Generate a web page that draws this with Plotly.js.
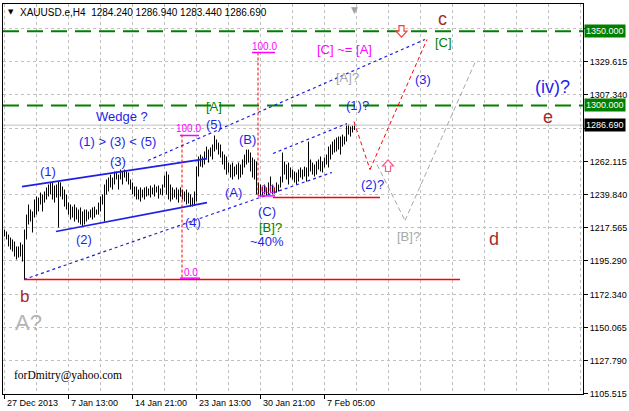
<!DOCTYPE html>
<html><head><meta charset="utf-8">
<script src="https://cdn.plot.ly/plotly-3.0.1.min.js"></script>
<style>html,body{margin:0;padding:0;background:#fff}#chart{width:629px;height:411px}</style>
</head><body><div id="chart"></div>
<script>
// ---------- data ----------
const symbol = 'XAUUSD.e,H4';
const lastOHLC = [1284.240, 1286.940, 1283.440, 1286.690];
const highs = [
1216.2,1214.9,1212.8,1210.8,1209.5,1208.1,1204.8,1204.8,1207.5,1206.1,
1216.2,1226.3,1233.1,1229.7,1228.4,1236.5,1238.5,1237.8,1241.2,1239.9,
1241.9,1244.6,1246.6,1248.0,1248.0,1245.9,1246.6,1248.6,1248.0,1245.2,
1243.2,1239.9,1234.4,1233.1,1231.7,1233.1,1231.1,1229.7,1231.1,1228.4,
1229.7,1229.7,1228.4,1229.7,1231.1,1231.7,1229.7,1234.4,1238.5,1239.9,
1246.6,1250.0,1251.3,1253.3,1251.3,1255.4,1255.4,1253.3,1256.7,1255.4,
1256.7,1255.4,1254.7,1250.0,1248.0,1245.2,1245.2,1243.2,1244.6,1243.2,
1244.6,1245.2,1243.9,1245.9,1244.6,1246.6,1245.2,1245.9,1243.9,1246.6,
1252.7,1255.4,1253.3,1246.6,1244.6,1243.2,1244.6,1243.2,1244.6,1243.2,
1241.9,1243.2,1241.2,1239.9,1237.8,1241.9,1258.7,1265.5,1266.8,1265.5,
1268.9,1272.2,1270.2,1271.6,1273.6,1279.7,1277.0,1274.9,1273.6,1268.9,
1266.8,1265.5,1261.4,1260.1,1261.4,1258.7,1260.1,1261.4,1260.1,1263.5,
1266.8,1270.2,1270.2,1268.2,1264.8,1263.5,1262.1,1248.0,1246.6,1245.2,
1246.6,1244.6,1248.0,1252.0,1246.6,1244.6,1248.0,1246.6,1252.0,1268.2,
1262.1,1260.1,1261.4,1258.1,1256.7,1255.4,1254.7,1256.7,1258.1,1256.7,
1258.7,1258.1,1275.6,1263.5,1261.4,1260.1,1262.1,1263.5,1265.5,1262.1,
1264.8,1266.8,1272.2,1273.6,1275.6,1277.0,1278.3,1279.0,1279.0,1280.3,
1279.0,1287.1,1287.1,1285.7,1286.4,1286.94];
const lows = [
1211.5,1209.5,1204.8,1202.7,1201.4,1198.0,1196.0,1197.3,1198.0,1194.6,
1182.5,1209.5,1219.6,1221.6,1214.2,1224.3,1226.3,1228.4,1233.1,1228.4,
1234.4,1236.5,1238.5,1239.9,1236.5,1234.4,1237.8,1217.6,1238.5,1236.5,
1231.7,1229.7,1226.3,1223.0,1224.3,1221.6,1223.0,1220.9,1219.6,1218.2,
1219.6,1221.6,1223.0,1224.3,1223.0,1224.3,1226.3,1226.3,1228.4,1233.1,
1221.6,1239.9,1241.9,1244.6,1243.2,1246.6,1250.0,1243.2,1250.0,1246.6,
1251.3,1248.6,1246.6,1243.2,1239.9,1238.5,1236.5,1236.5,1235.1,1237.8,
1236.5,1238.5,1239.2,1237.8,1239.9,1238.5,1241.2,1237.1,1239.9,1239.2,
1244.6,1239.9,1236.5,1235.1,1236.5,1237.8,1236.5,1234.4,1238.5,1236.5,
1235.1,1233.1,1233.8,1231.7,1231.7,1232.4,1235.1,1252.0,1258.7,1258.1,
1260.1,1263.5,1261.4,1265.5,1263.5,1268.9,1270.2,1266.8,1264.8,1260.1,
1256.7,1253.3,1254.7,1251.3,1250.0,1252.0,1253.3,1250.0,1251.3,1253.3,
1258.1,1260.1,1261.4,1255.4,1251.3,1250.0,1239.9,1239.9,1238.5,1239.2,
1239.9,1239.2,1239.9,1241.2,1239.9,1240.5,1241.2,1241.9,1244.6,1248.0,
1253.3,1250.0,1246.6,1251.3,1250.0,1248.0,1246.6,1248.6,1251.3,1250.0,
1252.0,1248.6,1252.0,1255.4,1253.3,1252.0,1253.3,1256.7,1255.4,1254.7,
1258.1,1260.1,1258.1,1263.5,1266.8,1268.2,1268.9,1270.2,1266.8,1272.2,
1273.6,1275.6,1280.3,1279.0,1281.7,1283.44];
const timeLabels = ['27 Dec 2013','7 Jan 13:00','14 Jan 21:00','23 Jan 13:00','30 Jan 21:00','7 Feb 05:00'];
const timeLabelBars = [0,32,64,96,128,160];
const priceTicks = [1105.515,1127.790,1150.065,1172.340,1195.290,1217.565,1239.840,1262.115,1284.390,1307.340,1329.615,1351.890];
const priceTickText = ['1105.515','1127.790','1150.065','1172.340','1195.290','1217.565','1239.840','1262.115','','1307.340','1329.615',''];
const greenLevels = [1350.000, 1300.000];
const currentPrice = 1286.690;

// ---------- build ----------
const bx = [], by = [];
highs.forEach((h, i) => { bx.push(i, i, null); by.push(lows[i], h, null); });
const gridBars = [];
for (let k = 0; k <= 288; k += 16) gridBars.push(k);

const F = 'Liberation Sans, Arial, sans-serif';
const BLUE = '#1f1fe8', BROWN = '#a52a2a', GREEN = '#008000', MAG = '#ff00ff', GRAY = '#a8a8a8';

function seg(x0, y0, x1, y1, color, width, dash) {
  return {type:'line', xref:'x', yref:'y', x0, y0, x1, y1, line:{color, width, dash: dash || 'solid'}};
}
function lbl(text, x, y, color, size, extra) {
  return Object.assign({text, x, y, xref:'x', yref:'y', showarrow:false,
    font:{family:F, size, color}, xanchor:'center', yanchor:'middle'}, extra || {});
}
function arrowShape(x, y, path, color) {
  return {type:'path', xref:'x', yref:'y', xsizemode:'pixel', ysizemode:'pixel', xanchor:x, yanchor:y,
    path, fillcolor:'#fff', line:{color, width:1.2}};
}

const lowMin = Math.min(...lows);
const shapes = [];
greenLevels.forEach(v => shapes.push({type:'line', xref:'paper', yref:'y', x0:0, x1:1, y0:v, y1:v,
  line:{color:GREEN, width:2, dash:'16px,8px'}}));
shapes.push({type:'line', xref:'paper', yref:'y', x0:0, x1:1, y0:currentPrice, y1:currentPrice,
  line:{color:'#c0c0c0', width:1}});
// red support lines
shapes.push(seg(9.75, lowMin, 227.75, lowMin, '#ff0000', 1.5));
shapes.push(seg(134.25, 1237.8, 187.75, 1237.8, '#ff0000', 1.5));
// wedge
shapes.push(seg(8.75, 1245.2, 101.25, 1264.1, BLUE, 1.6));
shapes.push(seg(25.75, 1214.9, 101.25, 1234.4, BLUE, 1.6));
// dotted channels
shapes.push(seg(9.75, 1182.5, 163.75, 1254.7, BLUE, 1.2, '3px,3px'));
shapes.push(seg(71.75, 1262.8, 210.25, 1344.5, BLUE, 1.2, '3px,3px'));
shapes.push(seg(134.25, 1267.5, 171.25, 1287.8, BLUE, 1.2, '3px,3px'));
// projections
shapes.push(seg(174.75, 1289.1, 182.75, 1256.7, '#ff0000', 1, '4px,3px'));
shapes.push(seg(182.75, 1256.7, 211.25, 1344.5, '#ff0000', 1, '4px,3px'));
shapes.push(seg(186.25, 1260.1, 200.25, 1222.3, GRAY, 1, '5px,3px'));
shapes.push(seg(200.25, 1222.3, 235.25, 1328.9, GRAY, 1, '5px,3px'));
// fibonacci tools
shapes.push(seg(88.75, 1280.3, 88.75, 1183.8, '#ff0000', 1, '3px,2px'));
shapes.push(seg(87.75, 1279.7, 97.25, 1279.7, MAG, 1.5));
shapes.push(seg(87.75, 1183.4, 97.75, 1183.4, MAG, 1.5));
shapes.push(seg(126.75, 1335.7, 126.75, 1238.5, '#ff0000', 1, '3px,2px'));
shapes.push(seg(123.75, 1335.7, 135.25, 1335.7, MAG, 1.5));
shapes.push(seg(126.75, 1238.9, 135.25, 1238.9, MAG, 1.5));
// hollow arrows
shapes.push(arrowShape(198.5, 1350.2, 'M -2.5,5.5 L 2.5,5.5 L 2.5,0 L 5.5,0 L 0,-6 L -5.5,0 L -2.5,0 Z', '#ff3a3a'));
shapes.push(arrowShape(191.75, 1259.1, 'M -2.5,-5.5 L 2.5,-5.5 L 2.5,0 L 5.5,0 L 0,6 L -5.5,0 L -2.5,0 Z', '#ff5a8c'));
// x tick marks
timeLabelBars.forEach(b => shapes.push({type:'line', xref:'x', yref:'paper', x0:b, x1:b, y0:0, y1:-5/390,
  line:{color:'#000', width:1}}));

const ann = [];
ann.push(lbl('100.0', 91.75, 1284.6, MAG, 10));
ann.push(lbl('0.0', 93.25, 1187.4, MAG, 10));
ann.push(lbl('100.0', 129.75, 1340.0, MAG, 10));
ann.push(lbl('0.0', 131.75, 1243.4, MAG, 10));
ann.push(lbl('[C] ~= [A]', 169.75, 1337.7, MAG, 13));
ann.push(lbl('[A]?', 171.25, 1318.8, GRAY, 13));
ann.push(lbl('(1)?', 176.25, 1299.9, BLUE, 13));
ann.push(lbl('(3)', 209.25, 1317.5, BLUE, 13));
ann.push(lbl('[C]', 219.25, 1342.4, GREEN, 13));
ann.push(lbl('c', 218.75, 1358.5, BROWN, 18));
ann.push(lbl('(iv)?', 273.75, 1312.1, BLUE, 18));
ann.push(lbl('e', 271.75, 1292.3, BROWN, 18));
ann.push(lbl('(2)?', 183.75, 1246.6, BLUE, 13));
ann.push(lbl('[B]?', 201.75, 1211.5, GRAY, 13));
ann.push(lbl('d', 244.75, 1209.5, BROWN, 18));
ann.push(lbl('Wedge ?', 58.75, 1292.5, BLUE, 13));
ann.push(lbl('[A]', 104.75, 1299.2, GREEN, 13));
ann.push(lbl('(5)', 104.75, 1287.1, BLUE, 13));
ann.push(lbl('(1) &gt; (3) &lt; (5)', 56.25, 1275.6, BLUE, 13));
ann.push(lbl('(1)', 21.75, 1255.4, BLUE, 13));
ann.push(lbl('(3)', 56.75, 1262.1, BLUE, 13));
ann.push(lbl('(B)', 121.25, 1277.0, BLUE, 13));
ann.push(lbl('(A)', 114.25, 1241.2, BLUE, 13));
ann.push(lbl('(2)', 39.75, 1209.5, BLUE, 13));
ann.push(lbl('(4)', 94.25, 1220.9, BLUE, 13));
ann.push(lbl('(C)', 131.25, 1228.4, BLUE, 13));
ann.push(lbl('[B]?', 132.75, 1217.6, GREEN, 13));
ann.push(lbl('~40%', 131.25, 1208.1, BLUE, 13));
ann.push(lbl('b', 9.75, 1171.0, BROWN, 17));
ann.push(lbl('A?', 11.75, 1153.8, '#b4b4b4', 22));
ann.push(lbl('forDmitry@yahoo.com', 3.75, 1117.7, '#000', 11.5,
  {xanchor:'left', font:{family:'Liberation Serif, Times New Roman, serif', size:11.5, color:'#000'}}));
// header
ann.push({text:'\u25bc', xref:'paper', yref:'paper', x:(11-3)/580, y:1-(12-4)/390, showarrow:false,
  xanchor:'center', yanchor:'middle', font:{family:'DejaVu Sans', size:7, color:'#000'}});
ann.push({text: symbol + '\u00a0\u00a0' + lastOHLC.map(v => v.toFixed(3)).join(' '),
  xref:'paper', yref:'paper', x:(18-3)/580, y:1-(12-4)/390, showarrow:false,
  xanchor:'left', yanchor:'middle', font:{family:F, size:10, color:'#000'}});
// shift marker
ann.push({text:'\u25bc', xref:'x', yref:'paper', x:174.75, y:1, showarrow:false, xanchor:'center', yanchor:'top',
  yshift:1, font:{family:'DejaVu Sans', size:9, color:'#a0a0a0'}});
// x labels
timeLabels.forEach((t, k) => ann.push({text:t, xref:'x', yref:'paper', x:timeLabelBars[k], y:0, showarrow:false,
  xanchor:'left', yanchor:'top', xshift:0, yshift:-2, font:{family:F, size:9, color:'#000'}}));
// price boxes
function box(v, bg) {
  return {text:v.toFixed(3), xref:'paper', yref:'y', x:1, y:v, showarrow:false, xanchor:'left', yanchor:'middle',
    xshift:1, bgcolor:bg, borderpad:1, font:{family:F, size:9, color:'#fff'}};
}
greenLevels.forEach(v => ann.push(box(v, GREEN)));
ann.push(box(currentPrice, '#000'));

const data = [{
  type:'scatter', mode:'lines', x:bx, y:by, connectgaps:false,
  line:{color:'#000', width:1}, hoverinfo:'skip', showlegend:false
}];

const layout = {
  width:629, height:411,
  margin:{l:3, r:46, t:4, b:17, pad:0},
  paper_bgcolor:'#fff', plot_bgcolor:'#fff',
  showlegend:false,
  xaxis:{range:[-0.75, 289.25], tickvals:gridBars, showticklabels:false, ticks:'',
    showgrid:true, gridcolor:'#c0c0c0', griddash:'3px,3px', gridwidth:1,
    zeroline:false, showline:true, mirror:true, linecolor:'#000', linewidth:1, fixedrange:true},
  yaxis:{range:[1105.2, 1368.45], side:'right', tickvals:priceTicks, ticktext:priceTickText,
    ticks:'outside', ticklen:4, tickcolor:'#000', tickfont:{family:F, size:9, color:'#000'},
    showgrid:true, gridcolor:'#c0c0c0', griddash:'3px,3px', gridwidth:1,
    zeroline:false, showline:true, mirror:true, linecolor:'#000', linewidth:1, fixedrange:true},
  shapes, annotations:ann
};
Plotly.newPlot('chart', data, layout, {staticPlot:true, displayModeBar:false});
</script></body></html>
